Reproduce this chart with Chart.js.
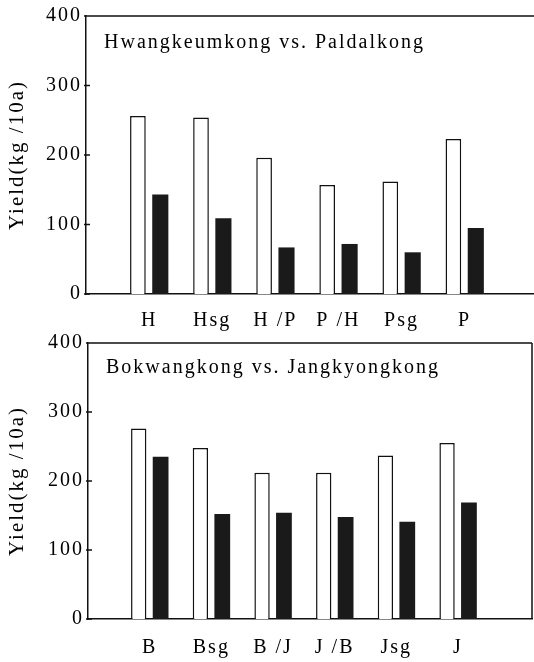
<!DOCTYPE html>
<html>
<head>
<meta charset="utf-8">
<script src="https://cdn.jsdelivr.net/npm/chart.js@4"></script>
<style>
  html, body { margin: 0; padding: 0; background: #fff; }
  body { width: 534px; height: 662px; position: relative; overflow: hidden; }
  .panel { position: absolute; left: 0; width: 534px; }
  #p1 { top: 0; height: 340px; }
  #p2 { top: 325px; height: 337px; }
</style>
</head>
<body>
<div class="panel" id="p1"><canvas id="chart_top"></canvas></div>
<div class="panel" id="p2"><canvas id="chart_bottom"></canvas></div>
<script>
// data
const topCats = ["H", "Hsg", "H /P", "P /H", "Psg", "P"];
const topWhite = [256, 254, 196, 157, 162, 223];
const topBlack = [143, 109, 67, 72, 60, 95];
const bottomCats = ["B", "Bsg", "B /J", "J /B", "Jsg", "J"];
const bottomWhite = [276, 248, 212, 212, 237, 255];
const bottomBlack = [235, 152, 154, 148, 141, 169];
const yMax = 400;
const yStep = 100;
const yTitle = "Yield(kg /10a)";
const topTitle = "Hwangkeumkong vs. Paldalkong";
const bottomTitle = "Bokwangkong vs. Jangkyongkong";

Chart.defaults.font.family = "'Liberation Serif', 'DejaVu Serif', serif";
Chart.defaults.font.size = 20;
Chart.defaults.color = "#000";

// wide typesetting like the printed figure
const spacing = {
    id: "spacing",
    beforeDraw(chart) { chart.ctx.letterSpacing = "2px"; }
};

// top line (and right line on the lower panel), inward y ticks, panel title
const frame = {
    id: "frame",
    afterDraw(chart, args, o) {
        const { ctx, chartArea: a, scales } = chart;
        ctx.save();
        ctx.strokeStyle = "#111";
        ctx.lineWidth = 1.5;
        ctx.beginPath();
        ctx.moveTo(a.left, a.top);
        ctx.lineTo(a.right, a.top);
        if (o.right) { ctx.moveTo(a.right, a.top); ctx.lineTo(a.right, a.bottom); }
        scales.y.ticks.forEach(t => {
            const y = scales.y.getPixelForValue(t.value);
            ctx.moveTo(a.left - 2, y);
            ctx.lineTo(a.left + 4, y);
        });
        ctx.stroke();
        ctx.letterSpacing = "2px";
        ctx.font = "20px 'Liberation Serif', serif";
        ctx.fillStyle = "#000";
        ctx.textBaseline = "alphabetic";
        ctx.fillText(o.text, a.left + o.dx, a.top + o.dy);
        ctx.restore();
    }
};

function makeChart(id, cats, white, black, o) {
    const ctx = document.getElementById(id).getContext("2d");
    return new Chart(ctx, {
        type: "bar",
        data: {
            datasets: [
                { data: white.map((v, i) => ({ x: i + 1, y: v })), backgroundColor: "#fff", borderColor: "#111", borderWidth: 1.5, categoryPercentage: 0.71, barPercentage: 0.7 },
                { data: black.map((v, i) => ({ x: i + 1, y: v })), backgroundColor: "#1a1a1a", borderWidth: 0, categoryPercentage: 0.71, barPercentage: 0.72 }
            ]
        },
        options: {
            responsive: true, maintainAspectRatio: false, animation: false,
            layout: { padding: { top: o.padTop, right: o.padRight, left: 0, bottom: 0 } },
            plugins: { legend: { display: false }, tooltip: { enabled: false }, frame: o.frame },
            scales: {
                x: {
                    type: "linear", min: 0, max: o.xMax, offset: false,
                    grid: { display: false, drawTicks: false },
                    border: { display: true, color: "#111", width: 1.5 },
                    ticks: {
                        stepSize: 1, autoSkip: false, maxRotation: 0, padding: o.tickPad,
                        callback: v => (Number.isInteger(v) && v >= 1 && v <= cats.length) ? cats[v - 1] : ""
                    },
                    afterFit: s => { s.height = o.xHeight; s.paddingLeft = 0; s.paddingRight = 0; }
                },
                y: {
                    min: 0, max: yMax,
                    grid: { display: false, drawTicks: false },
                    border: { display: true, color: "#111", width: 1.5 },
                    ticks: { stepSize: yStep, padding: 4 },
                    title: { display: true, text: yTitle, font: { size: 21 }, padding: { top: 5, bottom: 0 } },
                    afterFit: s => { s.width = o.yWidth; }
                }
            }
        },
        plugins: [spacing, frame]
    });
}

makeChart("chart_top", topCats, topWhite, topBlack, {
    xMax: 7.1, padTop: 15, padRight: 0, yWidth: 86, xHeight: 46, tickPad: 15,
    frame: { right: false, text: topTitle, dx: 18, dy: 32 }
});
makeChart("chart_bottom", bottomCats, bottomWhite, bottomBlack, {
    xMax: 7.2, padTop: 18, padRight: 2, yWidth: 88, xHeight: 43, tickPad: 17,
    frame: { right: true, text: bottomTitle, dx: 18, dy: 30 }
});
</script>
</body>
</html>
